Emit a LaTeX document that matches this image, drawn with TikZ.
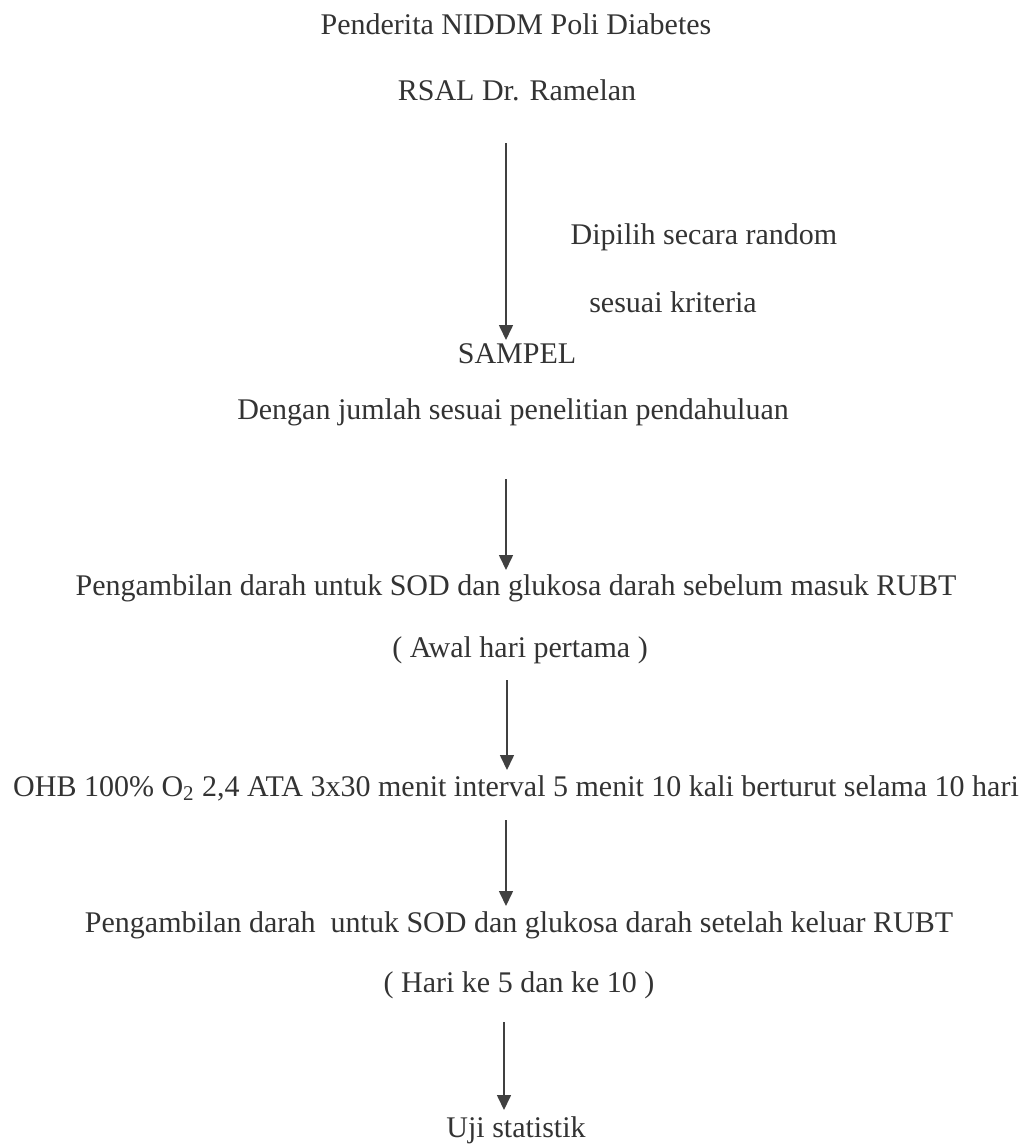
\documentclass[tikz,border=0pt]{standalone}
\usepackage{fontspec}
\setmainfont{Liberation Serif}
\usetikzlibrary{arrows.meta}
\begin{document}
\begin{tikzpicture}[x=0.5pt,y=-0.5pt,
  txt/.style={inner sep=0pt,font=\fontsize{15}{18}\selectfont,text=black!80},
  flow/.style={line width=0.8pt,draw=black!75,-{Triangle[length=7.5pt,width=7pt]}}]
\useasboundingbox (0,0) rectangle (1029,1148);
\node[txt] (t1) at (516,24) {Penderita NIDDM Poli Diabetes};
\node[txt] (t2) at (517,90) {RSAL Dr. Ramelan};
\node[txt] (l1) at (704,237) {Dipilih secara random};
\node[txt] (l2) at (673,302) {sesuai kriteria};
\node[txt] (t3) at (517,354) {SAMPEL};
\node[txt] (t4) at (513,412) {Dengan jumlah sesuai penelitian pendahuluan};
\node[txt] (t5) at (516,588) {Pengambilan darah untuk SOD dan glukosa darah sebelum masuk RUBT};
\node[txt] (t6) at (520,650) {( Awal hari pertama )};
\node[txt] (t7) at (516,788) {OHB 100\% O\textsubscript{2} 2,4 ATA 3x30 menit interval 5 menit 10 kali berturut selama 10 hari};
\node[txt] (t8) at (519,925) {Pengambilan darah \ untuk SOD dan glukosa darah setelah keluar RUBT};
\node[txt] (t9) at (519,985) {( Hari ke 5 dan ke 10 )};
\node[txt] (t10) at (516,1130) {Uji statistik};
\coordinate (a1s) at (506,143); \coordinate (a1e) at (506,340);
\coordinate (a2s) at (506,479); \coordinate (a2e) at (506,570);
\coordinate (a3s) at (507,680); \coordinate (a3e) at (507,770);
\coordinate (a4s) at (506,820); \coordinate (a4e) at (506,906);
\coordinate (a5s) at (504,1022); \coordinate (a5e) at (504,1110);
\draw[flow] (a1s) -- (a1e);
\draw[flow] (a2s) -- (a2e);
\draw[flow] (a3s) -- (a3e);
\draw[flow] (a4s) -- (a4e);
\draw[flow] (a5s) -- (a5e);
\end{tikzpicture}
\end{document}
